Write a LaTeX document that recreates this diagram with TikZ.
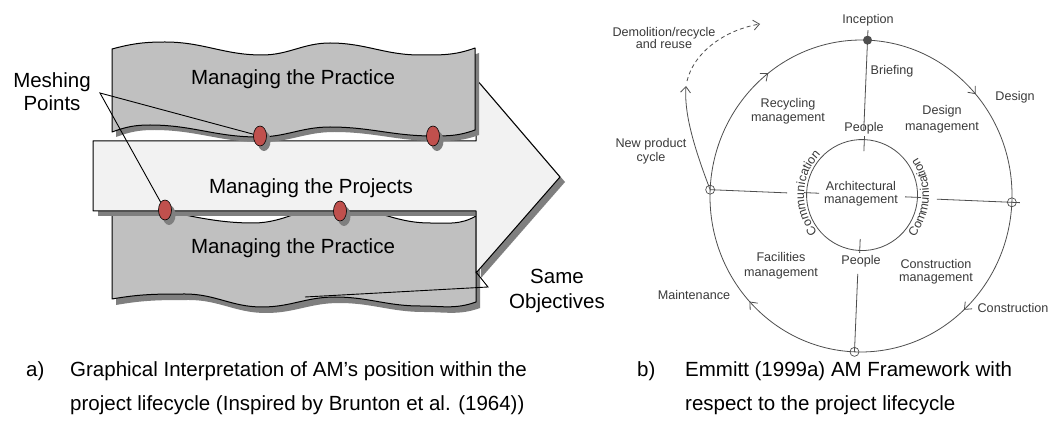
\documentclass[tikz,border=0pt]{standalone}
\usepackage{fontspec}
\setmainfont{Liberation Sans}
\usetikzlibrary{arrows.meta,decorations.markings,decorations.text,shapes.geometric}

\definecolor{bannergray}{HTML}{C0C0C0}
\definecolor{shadowgray}{HTML}{7F7F7F}
\definecolor{projgray}{HTML}{F2F2F2}
\definecolor{meshred}{HTML}{C0504D}
\definecolor{ink}{HTML}{3A3A3A}
\definecolor{linegray}{HTML}{4E4E4E}

\newcommand\commfont{\fontsize{12.3}{14}\selectfont\color{ink}}

% banner outlines, drawn once as shadow and once as the sheet itself
\newcommand\toppractice[1]{%
  \path[#1] (112,-49) to[out=15,in=180] (165,-42) to[out=0,in=180] (262,-55)
    to[out=0,in=180] (330,-43) to[out=0,in=180] (420,-55) to[out=0,in=200] (475,-48)
    -- (475,-130) to[out=200,in=0] (433,-136) to[out=180,in=0] (330,-127)
    to[out=180,in=0] (258,-137) to[out=180,in=0] (150,-125) to[out=180,in=20] (112,-132)
    -- cycle;}
\newcommand\bottompractice[1]{%
  \path[#1] (112,-206) to[out=0,in=180] (253,-223) to[out=0,in=180] (335,-206)
    to[out=0,in=180] (430,-223) to[out=0,in=210] (476,-216)
    -- (476,-302) to[out=200,in=0] (420,-306) to[out=180,in=0] (335,-297)
    to[out=180,in=0] (262,-307) to[out=180,in=0] (185,-294) to[out=180,in=10] (112,-299)
    -- cycle;}
\newcommand\projectarrow[1]{%
  \path[#1] (93,-141) -- (476,-141) -- (476,-79) -- (560,-177) -- (476,-273)
    -- (476,-211) -- (93,-211) -- cycle;}

\tikzset{
  bigtext/.style={font=\fontsize{20.5}{24}\selectfont, align=center, inner sep=0pt},
  lbl/.style={font=\fontsize{12.6}{13.5}\selectfont, text=ink, align=center, inner sep=0pt},
  captext/.style={font=\fontsize{20.5}{24}\selectfont, anchor=base west, inner sep=0pt},
  outline/.style={draw=black, line width=1pt, line join=round},
  callout/.style={draw=black, line width=0.9pt},
  meshdot/.style={ellipse, minimum width=13pt, minimum height=20pt, inner sep=0pt,
    fill=meshred, draw=black, line width=0.6pt},
  meshshadow/.style={ellipse, minimum width=13pt, minimum height=20pt, inner sep=0pt,
    fill=shadowgray},
  cycleline/.style={draw=linegray, line width=0.8pt},
  crossmark/.style={circle, draw=linegray, line width=0.7pt, minimum size=9pt, inner sep=0pt},
}

\begin{document}
\begin{tikzpicture}[x=1pt, y=1pt, >={Straight Barb[length=6pt,width=10pt]}]
\fill[white] (0,0) rectangle (1054,-435);
\useasboundingbox (0,0) rectangle (1054,-435);

% ---------- left: practice sheets and project arrow ----------
\bottompractice{fill=shadowgray, shift={(4,-6)}}
\bottompractice{fill=bannergray, outline}
\projectarrow{fill=shadowgray, shift={(5,-5)}}
\projectarrow{fill=projgray, outline}
\toppractice{fill=shadowgray, shift={(4,-5)}}
\toppractice{fill=bannergray, outline}

\node[bigtext] (prac1) at (293,-79) {Managing the Practice};
\node[bigtext] (proj) at (311,-188) {Managing the Projects};
\node[bigtext] (prac2) at (293,-248) {Managing the Practice};

% meshing points
\node[meshshadow] (d1s) at (264,-141) {};
\node[meshshadow] (d2s) at (437,-141) {};
\node[meshshadow] (d3s) at (169,-215) {};
\node[meshshadow] (d4s) at (344,-216) {};
\node[meshdot] (d1) at (260,-136) {};
\node[meshdot] (d2) at (433,-136) {};
\node[meshdot] (d3) at (165,-210) {};
\node[meshdot] (d4) at (340,-211) {};

\node[bigtext, font=\fontsize{20.5}{23}\selectfont] (mesh) at (52,-92) {Meshing\\Points};
\coordinate (mp) at (100,-93);
\draw[callout] (d1) -- (mp) -- (d3);

\node[bigtext, font=\fontsize{20.5}{25}\selectfont] (same) at (557,-291) {Same\\Objectives};
\coordinate (so) at (488,-287);
\coordinate (tipcorner) at (476,-272);
\coordinate (sheetedge) at (305,-297);
\draw[callout] (tipcorner) -- (so) -- (sheetedge);

% ---------- right: lifecycle framework ----------
\begin{scope}[shift={(861,-196)}, rotate=-2.4]
  \coordinate (incep) at (0,156);
  \coordinate (lx) at (-151,0);
  \coordinate (rx) at (151,0);
  \coordinate (bx) at (0,-156);
  \draw[cycleline, postaction={decorate}, decoration={markings,
      mark=at position 0.129 with {\arrow{>}},
      mark=at position 0.375 with {\arrow{>}},
      mark=at position 0.624 with {\arrow{>}},
      mark=at position 0.889 with {\arrow{>}}}]
    (incep) arc[start angle=90, end angle=-270, x radius=151, y radius=156];
  \coordinate (ts) at (0,166);
  \coordinate (tp) at (0,66);
  \coordinate (le) at (-74,0);
  \coordinate (re) at (76,0);
  \coordinate (rout) at (159,0);
  \coordinate (bs) at (0,-78);
  \draw[cycleline] (ts) -- (incep) -- (tp);
  \draw[cycleline] (lx) -- (le);
  \draw[cycleline] (re) -- (rout);
  \draw[cycleline] (bs) -- (bx);
  \begin{scope}[shift={(1,1)}]
    \coordinate (am) at (0,0);
    \draw[cycleline] (am) circle[radius=55.5];
    \draw[cycleline] (90:44) -- (90:59);
    \draw[cycleline] (180:43) -- (180:58);
    \draw[cycleline] (0:43) -- (0:59);
    \draw[cycleline] (270:44) -- (270:58);
    \path[decorate, decoration={text along path, text align=center,
        text={|\commfont|Communication}}]
      (225:58) arc[start angle=225, end angle=135, radius=58];
    \path[decorate, decoration={text along path, text align=center,
        text={|\commfont|Communication}}]
      (-45:67) arc[start angle=-45, end angle=45, radius=67];
  \end{scope}
  \fill[linegray] (incep) circle[radius=4.5];
  \node[crossmark] (lm) at (lx) {};
  \node[crossmark] (rm) at (rx) {};
  \node[crossmark] (bm) at (bx) {};
\end{scope}

% new product cycle and demolition
\coordinate (np) at (686,-86);
\coordinate (nq) at (687,-81);
\coordinate (dm) at (760,-24);
\draw[cycleline, ->] (lx) .. controls (693,-145) and (684,-112) .. (np);
\draw[cycleline, dashed, dash pattern=on 4pt off 3pt, ->] (nq) .. controls (694,-52) and (725,-30) .. (dm);

\node[lbl] (l-incep) at (868,-20) {Inception};
\node[lbl] (l-brief) at (892,-71) {Briefing};
\node[lbl] (l-design) at (1015,-97) {Design};
\node[lbl, font=\fontsize{12.6}{15.5}\selectfont] (l-dm) at (942,-119) {Design\\management};
\node[lbl] (l-ptop) at (864,-128) {People};
\node[lbl] (l-rm) at (788,-111) {Recycling\\management};
\node[lbl, font=\fontsize{12.6}{12.5}\selectfont] (l-demo) at (664,-38) {Demolition/recycle\\and reuse};
\node[lbl] (l-npc) at (651,-151) {New product\\cycle};
\node[lbl] (l-am) at (861,-193.5) {Architectural\\management};
\node[lbl, font=\fontsize{12.6}{15}\selectfont] (l-fm) at (781,-265.5) {Facilities\\management};
\node[lbl] (l-pbot) at (861,-261) {People};
\node[lbl] (l-cm) at (936,-271.5) {Construction\\management};
\node[lbl] (l-con) at (1013,-308) {Construction};
\node[lbl] (l-main) at (694,-295) {Maintenance};

% ---------- captions ----------
\node[captext] (capa) at (26,-376) {a)};
\node[captext] (capa1) at (70,-376) {Graphical Interpretation of AM’s position within the};
\node[captext] (capa2) at (70,-410) {project lifecycle (Inspired by Brunton et al. (1964))};
\node[captext] (capb) at (637,-376) {b)};
\node[captext] (capb1) at (685,-376) {Emmitt (1999a) AM Framework with};
\node[captext] (capb2) at (685,-410) {respect to the project lifecycle};
\end{tikzpicture}
\end{document}
